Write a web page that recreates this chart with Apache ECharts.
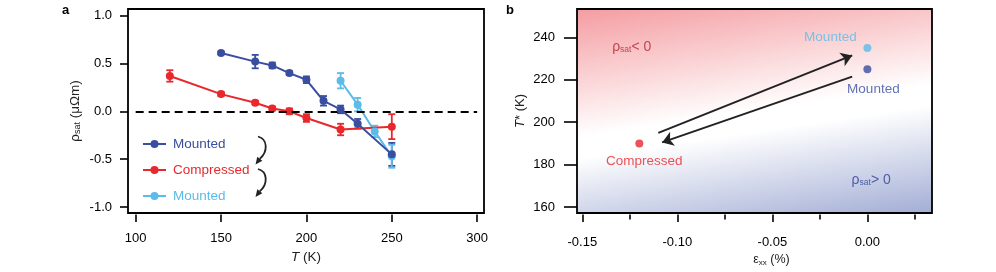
<!DOCTYPE html>
<html>
<head>
<meta charset="utf-8">
<script src="https://cdn.jsdelivr.net/npm/echarts@6/dist/echarts.min.js"></script>
<style>
html,body{margin:0;padding:0;background:#fff;}
#chart{width:996px;height:272px;}
</style>
</head>
<body>
<div id="chart"></div>
<script>
// ---- Panel a data ----
const mounted1T   = [150, 170, 180, 190, 200, 210, 220, 230, 250];
const mounted1Rho = [0.61, 0.52, 0.48, 0.40, 0.33, 0.11, 0.02, -0.13, -0.45];
const mounted1Err = [0.015, 0.07, 0.03, 0.02, 0.035, 0.05, 0.04, 0.05, 0.12];

const compT   = [120, 150, 170, 180, 190, 200, 220, 250];
const compRho = [0.37, 0.18, 0.09, 0.03, 0.00, -0.07, -0.19, -0.16];
const compErr = [0.06, 0.02, 0.02, 0.02, 0.03, 0.04, 0.06, 0.13];

const mounted2T   = [220, 230, 240, 250];
const mounted2Rho = [0.32, 0.07, -0.21, -0.47];
const mounted2Err = [0.08, 0.07, 0.06, 0.12];

const xTicksA = [100, 150, 200, 250, 300];
const yTicksA = [-1.0, -0.5, 0.0, 0.5, 1.0];

// ---- Panel b data ----
const strainX = [0.0, 0.0, -0.12];
const tStar   = [235, 225, 190];
const pointNames = ['Mounted', 'Mounted', 'Compressed'];

const arrowStart = [[-0.110, 195.0], [-0.008, 221.5]];
const arrowEnd   = [[-0.008, 231.5], [-0.108, 190.5]];

const regionX = [-0.124, 0.002];
const regionY = [235.6, 172.9];

const xTicksB = [-0.15, -0.10, -0.05, 0.00];
const xMinorB = [-0.125, -0.075, -0.025, 0.025];
const yTicksB = [160, 180, 200, 220, 240];

// ---- styles ----
const C_DARK = '#3a4ea0';
const C_RED = '#e8282c';
const C_LIGHT = '#5cbbe8';
const FONT = 'Liberation Sans, Arial, Helvetica, sans-serif';

const zip = (a, b, c) => a.map((v, i) => c ? [v, b[i], c[i]] : [v, b[i]]);

function errRender(color) {
  return function (params, api) {
    const x = api.value(0), y = api.value(1), e = api.value(2);
    const t = api.coord([x, y + e]);
    const b = api.coord([x, y - e]);
    const w = 3.5;
    const st = { stroke: color, lineWidth: 1.8 };
    return {
      type: 'group',
      children: [
        { type: 'line', shape: { x1: t[0], y1: t[1], x2: b[0], y2: b[1] }, style: st },
        { type: 'line', shape: { x1: t[0] - w, y1: t[1], x2: t[0] + w, y2: t[1] }, style: st },
        { type: 'line', shape: { x1: b[0] - w, y1: b[1], x2: b[0] + w, y2: b[1] }, style: st }
      ]
    };
  };
}

const tickStyle = { color: '#000', width: 1.6 };
const labelStyle = { color: '#000', fontSize: 13, fontFamily: FONT };
const noLine = { show: false, onZero: false };

const chart = echarts.init(document.getElementById('chart'), null, { renderer: 'canvas' });

const option = {
  animation: false,
  backgroundColor: '#fff',
  textStyle: { fontFamily: FONT },
  grid: [
    { left: 128, top: 9, width: 356, height: 204, show: true, borderColor: '#000', borderWidth: 1.8, backgroundColor: 'transparent' },
    { left: 577, top: 9, width: 355, height: 204, show: true, borderColor: '#000', borderWidth: 1.8,
      backgroundColor: {
        type: 'linear', x: 0, y: 0, x2: 0.106, y2: 1.23,
        colorStops: [
          { offset: 0, color: '#f49ca1' },
          { offset: 0.5, color: '#ffffff' },
          { offset: 0.58, color: '#ffffff' },
          { offset: 1, color: '#a2add5' }
        ]
      } }
  ],
  legend: {
    orient: 'vertical',
    left: 137, top: 132,
    itemWidth: 23, itemHeight: 10, itemGap: 12,
    selectedMode: false,
    formatter: name => name.trim(),
    textStyle: { fontSize: 13.5, fontFamily: FONT, padding: [0, 0, 0, 2] },
    data: [
      { name: 'Mounted', textStyle: { color: C_DARK } },
      { name: 'Compressed', textStyle: { color: C_RED } },
      { name: 'Mounted ', textStyle: { color: C_LIGHT } }
    ]
  },
  xAxis: [
    {
      gridIndex: 0, type: 'value', min: 95.5, max: 304, offset: 1.5, position: 'bottom',
      axisLine: noLine, splitLine: { show: false },
      axisTick: { show: true, length: 7.5, inside: false, customValues: xTicksA, lineStyle: tickStyle },
      axisLabel: { customValues: xTicksA, margin: 17, ...labelStyle },
      name: '{i|T}{a| (K)}', nameLocation: 'middle', nameGap: 36,
      nameTextStyle: { rich: { i: { fontStyle: 'italic', fontSize: 13.5, fontFamily: FONT, color: '#222' }, a: { fontSize: 13.5, fontFamily: FONT, color: '#222' } } }
    },
    {
      gridIndex: 1, type: 'value', min: -0.1528, max: 0.034, offset: 1.5, position: 'bottom',
      axisLine: noLine, splitLine: { show: false },
      axisTick: { show: true, length: 7.5, customValues: xTicksB, lineStyle: tickStyle },
      axisLabel: { customValues: xTicksB, margin: 21, formatter: v => v.toFixed(2), ...labelStyle },
      name: '{a|ε}{s|xx}{a| (%)}', nameLocation: 'middle', nameGap: 39,
      nameTextStyle: { padding: [0, 0, 0, 34], rich: { a: { fontSize: 12.5, fontFamily: FONT, color: '#222' }, s: { fontSize: 8, fontFamily: FONT, color: '#222', verticalAlign: 'bottom', padding: [4, 0, 0, 0] } } }
    },
    {
      gridIndex: 1, type: 'value', min: -0.1528, max: 0.034, offset: 1.5, position: 'bottom',
      axisLine: noLine, splitLine: { show: false },
      axisTick: { show: true, length: 5, customValues: xMinorB, lineStyle: tickStyle },
      axisLabel: { show: false, customValues: xMinorB }
    }
  ],
  yAxis: [
    {
      gridIndex: 0, type: 'value', min: -1.063, max: 1.07, position: 'left',
      axisLine: noLine, splitLine: { show: false },
      axisTick: { show: true, length: 8, customValues: yTicksA, lineStyle: tickStyle },
      axisLabel: { customValues: yTicksA, margin: 16, formatter: v => v.toFixed(1), ...labelStyle },
      name: '{a|ρ}{s|sat}{a| (μΩm)}', nameLocation: 'middle', nameGap: 46, nameRotate: 90,
      nameTextStyle: { rich: { a: { fontSize: 13.5, fontFamily: FONT, color: '#222' }, s: { fontSize: 9, fontFamily: FONT, color: '#222', verticalAlign: 'bottom', padding: [4, 0, 0, 0] } } }
    },
    {
      gridIndex: 1, type: 'value', min: 157.2, max: 253.4, position: 'left',
      axisLine: noLine, splitLine: { show: false },
      axisTick: { show: true, length: 13, customValues: yTicksB, lineStyle: tickStyle },
      axisLabel: { customValues: yTicksB, margin: 22, ...labelStyle },
      name: '{i|T}{a|* (K)}', nameLocation: 'middle', nameGap: 50, nameRotate: 90,
      nameTextStyle: { rich: { i: { fontStyle: 'italic', fontSize: 13, fontFamily: FONT, color: '#222' }, a: { fontSize: 13, fontFamily: FONT, color: '#222' } } }
    }
  ],
  series: [
    // error bars
    { type: 'custom', name: 'errMounted1', xAxisIndex: 0, yAxisIndex: 0, renderItem: errRender(C_DARK), data: zip(mounted1T, mounted1Rho, mounted1Err), encode: { x: 0, y: 1 }, z: 3 },
    { type: 'custom', name: 'errComp', xAxisIndex: 0, yAxisIndex: 0, renderItem: errRender(C_RED), data: zip(compT, compRho, compErr), encode: { x: 0, y: 1 }, z: 3 },
    { type: 'custom', name: 'errMounted2', xAxisIndex: 0, yAxisIndex: 0, renderItem: errRender(C_LIGHT), data: zip(mounted2T, mounted2Rho, mounted2Err), encode: { x: 0, y: 1 }, z: 3 },
    {
      type: 'line', name: 'Mounted ', xAxisIndex: 0, yAxisIndex: 0,
      data: zip(mounted2T, mounted2Rho), symbol: 'circle', symbolSize: 8,
      lineStyle: { color: C_LIGHT, width: 2 }, itemStyle: { color: C_LIGHT }, z: 4
    },
    {
      type: 'line', name: 'Compressed', xAxisIndex: 0, yAxisIndex: 0,
      data: zip(compT, compRho), symbol: 'circle', symbolSize: 8,
      lineStyle: { color: C_RED, width: 2 }, itemStyle: { color: C_RED }, z: 4,
      markLine: {
        silent: true, symbol: ['none', 'none'], label: { show: false },
        lineStyle: { color: '#000', width: 2, type: [8, 5] },
        data: [[{ coord: [xTicksA[0], 0] }, { coord: [xTicksA[xTicksA.length - 1], 0] }]]
      }
    },
    {
      type: 'line', name: 'Mounted', xAxisIndex: 0, yAxisIndex: 0,
      data: zip(mounted1T, mounted1Rho), symbol: 'circle', symbolSize: 8,
      lineStyle: { color: C_DARK, width: 2 }, itemStyle: { color: C_DARK }, z: 5
    },
    // panel b
    {
      type: 'scatter', name: 'points', xAxisIndex: 1, yAxisIndex: 1,
      symbolSize: 8,
      data: strainX.map((x, i) => ({
        value: [x, tStar[i]],
        itemStyle: { color: [C_LIGHT, C_DARK, C_RED][i] },
        label: {
          show: true, formatter: pointNames[i], position: 'inside',
          offset: [[-37, -11], [6, 20.5], [5, 18]][i],
          color: [C_LIGHT, C_DARK, C_RED][i], fontSize: 13.5, fontFamily: FONT
        }
      })),
      markLine: {
        silent: true, symbol: ['none', 'arrow'], symbolSize: 11, label: { show: false },
        lineStyle: { color: '#222', width: 2, type: 'solid' },
        data: arrowStart.map((s, i) => [{ coord: s }, { coord: arrowEnd[i] }])
      }
    },
    {
      type: 'scatter', name: 'regions', xAxisIndex: 1, yAxisIndex: 1,
      symbol: 'circle', symbolSize: 1, itemStyle: { color: 'rgba(0,0,0,0)' }, silent: true,
      data: regionX.map((x, i) => ({
        value: [x, regionY[i]],
        label: {
          show: true, position: 'inside',
          formatter: i === 0 ? '{r|ρ}{s|sat}{r|< 0}' : '{r|ρ}{s|sat}{r|> 0}',
          rich: {
            r: { fontSize: 14, fontFamily: FONT, color: i === 0 ? '#b82630' : '#2f4194' },
            s: { fontSize: 8.5, fontFamily: FONT, color: i === 0 ? '#b82630' : '#2f4194', verticalAlign: 'bottom', padding: [5, 0, 0, 0] }
          }
        }
      }))
    }
  ],
  graphic: [
    { type: 'text', left: 62, top: 4, style: { text: 'a', font: 'bold 13px ' + FONT, fill: '#000' } },
    { type: 'text', left: 506, top: 4, style: { text: 'b', font: 'bold 13px ' + FONT, fill: '#000' } },
    { type: 'bezierCurve', shape: { x1: 258, y1: 136.5, cpx1: 268, cpy1: 139, cpx2: 268, cpy2: 152, x2: 259.7, y2: 158.9 }, style: { stroke: '#222', lineWidth: 1.8, fill: null } },
    { type: 'polygon', shape: { points: [[255.5, 164.5], [262.3, 160.7], [257.3, 156.8]] }, style: { fill: '#222' } },
    { type: 'bezierCurve', shape: { x1: 258, y1: 169.0, cpx1: 268, cpy1: 171.5, cpx2: 268, cpy2: 184.5, x2: 259.7, y2: 191.4 }, style: { stroke: '#222', lineWidth: 1.8, fill: null } },
    { type: 'polygon', shape: { points: [[255.5, 197.0], [262.3, 193.2], [257.3, 189.3]] }, style: { fill: '#222' } }
  ]
};

chart.setOption(option);
</script>
</body>
</html>
